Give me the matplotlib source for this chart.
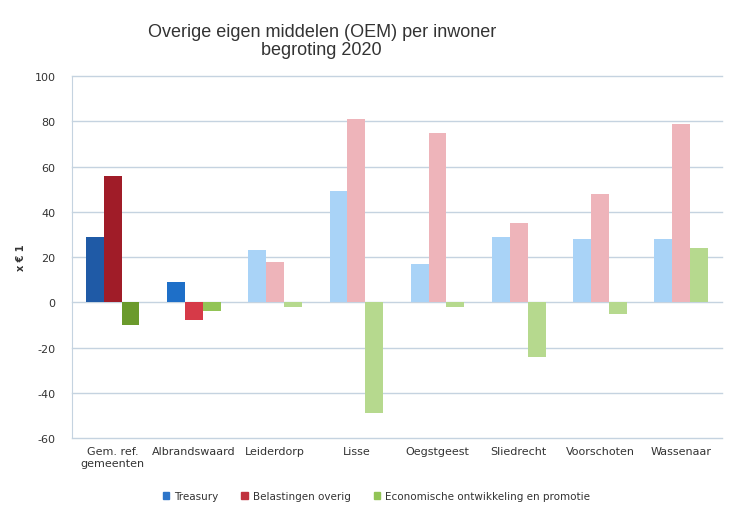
import numpy as np
import matplotlib.pyplot as plt
from matplotlib.patches import Patch

plt.rcParams["axes.unicode_minus"] = False

# Gegevens uit de grafiek
gemeenten = ["Gem. ref.\ngemeenten", "Albrandswaard", "Leiderdorp", "Lisse",
             "Oegstgeest", "Sliedrecht", "Voorschoten", "Wassenaar"]
treasury = [29, 9, 23, 49, 17, 29, 28, 28]
belastingen = [56, -8, 18, 81, 75, 35, 48, 79]
economie = [-10, -4, -2, -49, -2, -24, -5, 24]
reeksen = ["Treasury", "Belastingen overig", "Economische ontwikkeling en promotie"]

# kleuren per gemeente (eerste twee donker, de rest licht)
kleur_blauw = ["#1f5aa6", "#1e6fc8"] + ["#a9d3f7"] * 6
kleur_rood = ["#a01c28", "#d63a48"] + ["#eeb4ba"] * 6
kleur_groen = ["#6b9a2c", "#92c456"] + ["#b6d98e"] * 6
legenda_kleuren = ["#2d75c9", "#c0313e", "#92c456"]

fig = plt.figure(figsize=(7.31, 5.10), dpi=100)
ax = fig.add_axes([0.0985, 0.139, 0.889, 0.71])

x = np.arange(len(gemeenten))
b = 0.22
ax.bar(x - b, treasury, b, color=kleur_blauw, zorder=3)
ax.bar(x, belastingen, b, color=kleur_rood, zorder=3)
ax.bar(x + b, economie, b, color=kleur_groen, zorder=3)

ax.set_xlim(-0.5, len(gemeenten) - 0.5)
ax.set_ylim(-60, 100)
ax.set_yticks(range(-60, 101, 20))
for t in range(-60, 101, 20):
    ax.axhline(t, color="#c5d3e0", linewidth=1, zorder=1, clip_on=False)
for s in ["top", "right", "bottom"]:
    ax.spines[s].set_visible(False)
ax.spines["left"].set_color("#c5d3e0")
ax.tick_params(axis="y", length=0, labelsize=8, labelcolor="#333333", pad=12)
ax.tick_params(axis="x", length=0, labelsize=8, labelcolor="#333333", pad=6)
ax.set_xticks(x)
ax.set_xticklabels(gemeenten)
ax.set_ylabel("x € 1", fontsize=7, fontweight="bold", color="#333333", labelpad=6)

fig.text(0.44, 0.918, "Overige eigen middelen (OEM) per inwoner\nbegroting 2020",
         ha="center", va="center", fontsize=13, color="#333333",
         family="Liberation Sans", linespacing=1.1)

handles = [Patch(color=c, label=r) for c, r in zip(legenda_kleuren, reeksen)]
fig.legend(handles=handles, loc="center", bbox_to_anchor=(0.515, 0.025), ncol=3,
           frameon=False, fontsize=7.5, handlelength=0.6, handleheight=0.6,
           columnspacing=2.2, handletextpad=0.5, labelcolor="#333333")

fig.savefig("out.png", dpi=100)
